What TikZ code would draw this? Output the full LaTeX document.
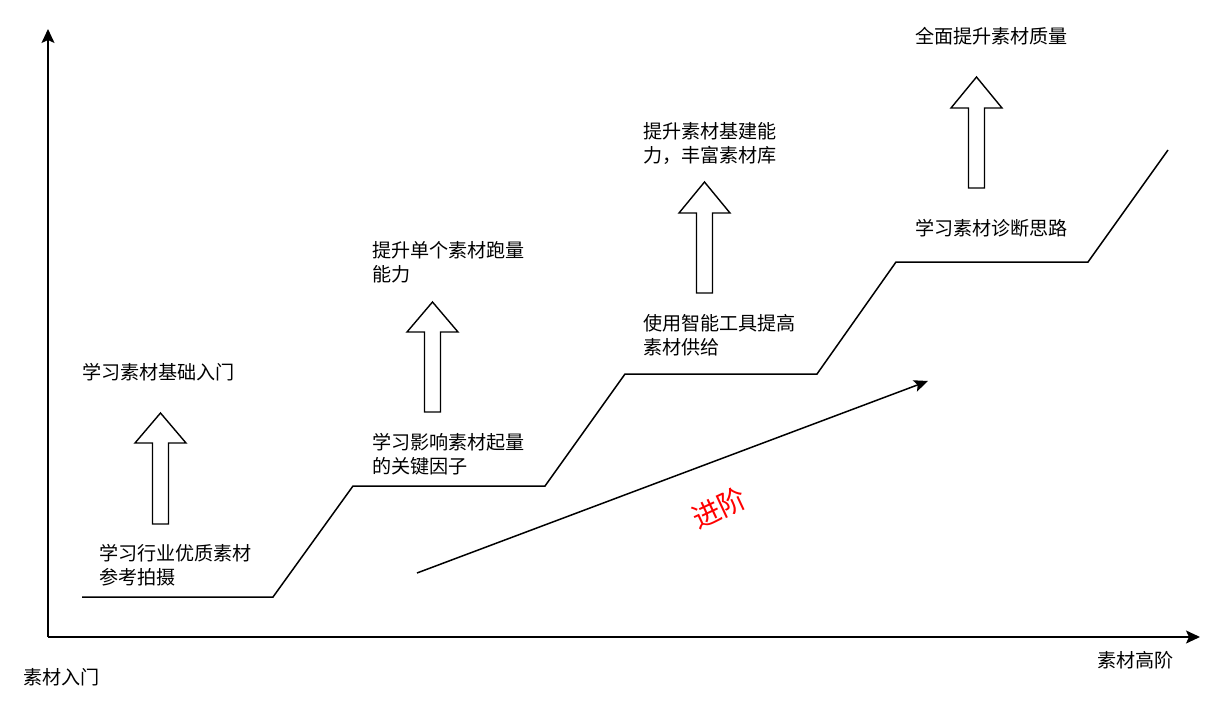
\documentclass[tikz,border=0pt]{standalone}
\usepackage{fontspec}
\newfontfamily\cjk{Noto Sans CJK SC}
\usetikzlibrary{arrows.meta}
\tikzset{
  lbl/.style={font=\cjk\fontsize{19.1}{24}\selectfont, anchor=west, inner sep=0pt, align=left, text=black},
  axis/.style={line width=1.6pt, -{Stealth[length=14pt,width=13pt,inset=3pt]}},
  stepline/.style={line width=1.5pt, line join=miter},
  blk/.style={line width=1.4pt, draw=black, fill=white, line join=miter},
  prog/.style={line width=1.5pt, -{Stealth[length=14pt,width=12pt,inset=3pt]}}
}
\newcommand\blkarrow[4]{% cx, tip y, head base y, bottom y
  \draw[blk] (#1-8,#4) -- (#1-8,#3) -- (#1-25.5,#3) -- (#1,#2) -- (#1+25.5,#3) -- (#1+8,#3) -- (#1+8,#4) -- cycle;}
\begin{document}
\begin{tikzpicture}[x=1pt,y=-1pt]
\useasboundingbox[fill=white] (0,0) rectangle (1219,701);
% axes
\coordinate (O) at (48,637);
\coordinate (Ytip) at (48,29);
\coordinate (Xtip) at (1200,637);
\draw[axis] (O) -- (Ytip);
\draw[axis] (O) -- (Xtip);
% step line
\draw[stepline] (82,597) -- (273,597) -- (353,486) -- (545,486) -- (625,374) -- (817,374) -- (896,262) -- (1088,262) -- (1168,150);
% block arrows
\blkarrow{160.5}{413}{443}{524}
\blkarrow{432.5}{302}{332}{412}
\blkarrow{704.5}{182}{213}{293}
\blkarrow{976.5}{77}{108}{188}
% progress arrow
\coordinate (ps) at (417,573);
\coordinate (pe) at (928,381);
\draw[prog] (ps) -- (pe);
\node[font=\cjk\fontsize{28}{30}\selectfont, text=red, rotate=25, inner sep=0pt] (adv) at (719,508) {进阶};
% labels
\node[lbl] (t1) at (82,372) {学习素材基础入门};
\node[lbl] (t2) at (99,565) {学习行业优质素材\\参考拍摄};
\node[lbl] (t3) at (372,262) {提升单个素材跑量\\能力};
\node[lbl] (t4) at (372,454) {学习影响素材起量\\的关键因子};
\node[lbl] (t5) at (643,143.5) {提升素材基建能\\力，丰富素材库};
\node[lbl] (t6) at (643,335.5) {使用智能工具提高\\素材供给};
\node[lbl] (t7) at (915,36) {全面提升素材质量};
\node[lbl] (t8) at (915,228) {学习素材诊断思路};
\node[lbl] (xl) at (23,677) {素材入门};
\node[lbl] (xh) at (1097,660) {素材高阶};
\end{tikzpicture}
\end{document}
